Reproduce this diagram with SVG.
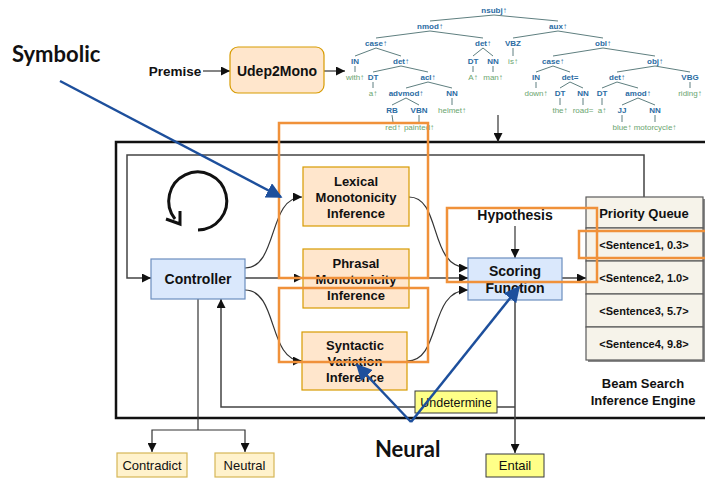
<svg xmlns="http://www.w3.org/2000/svg" width="705" height="478" viewBox="0 0 705 478">
<defs>
<style>
.tag{font-family:"Liberation Sans",Arial,sans-serif;font-size:8px;font-weight:bold;fill:#2b6ca3;text-anchor:middle}
.wd{font-family:"Liberation Sans",Arial,sans-serif;font-size:8px;fill:#6aa56f;text-anchor:middle}
.te{stroke:#5f7f80;stroke-width:1;fill:none}
.b13{font-family:"Liberation Sans",Arial,sans-serif;font-size:13px;font-weight:bold;fill:#111;text-anchor:middle}
.b14{font-family:"Liberation Sans",Arial,sans-serif;font-size:14px;font-weight:bold;fill:#111;text-anchor:middle}
.b11{font-family:"Liberation Sans",Arial,sans-serif;font-size:11px;font-weight:bold;fill:#111;text-anchor:middle}
.r13{font-family:"Liberation Sans",Arial,sans-serif;font-size:13px;fill:#111;text-anchor:middle}
.big{font-family:Lato,"Open Sans",sans-serif;font-size:22px;font-weight:bold;fill:#111}
.peach{fill:#ffe6cc;stroke:#d79b00;stroke-width:1.2}
.blue{fill:#dae8fc;stroke:#6c8ebf;stroke-width:1.2}
.cream{fill:#fff2cc;stroke:#d6b656;stroke-width:1.2}
.yel{fill:#ffff88;stroke:#36393d;stroke-width:1}
.pq{fill:#f6f3ea;stroke:#5a5a5a;stroke-width:1.2}
.cn{fill:none;stroke:#333;stroke-width:1.2}
.cg{fill:none;stroke:#444;stroke-width:1.5}
.orng{fill:none;stroke:#f0913a;stroke-width:2.5}
.ann{fill:none;stroke:#1d4f9c;stroke-width:2.5}
</style>
<marker id="ah" viewBox="0 0 10 10" refX="10" refY="5" markerWidth="9" markerHeight="9" markerUnits="userSpaceOnUse" orient="auto">
<path d="M0,0 L10,5 L0,10 z" fill="#111"/>
</marker>
<marker id="bah" viewBox="0 0 10 10" refX="9" refY="5" markerWidth="16" markerHeight="16" markerUnits="userSpaceOnUse" orient="auto">
<path d="M0,0 L10,5 L0,10 z" fill="#1d4f9c"/>
</marker>
</defs>
<rect width="705" height="478" fill="#ffffff"/>

<g id="tree">
<g class="te">
<line x1="494" y1="15" x2="430" y2="21"/><line x1="494" y1="15" x2="558" y2="21"/>
<line x1="430" y1="31" x2="376" y2="38"/><line x1="430" y1="31" x2="483" y2="38"/>
<line x1="558" y1="31" x2="513" y2="38"/><line x1="558" y1="31" x2="603" y2="38"/>
<line x1="376" y1="48" x2="355" y2="56"/><line x1="376" y1="48" x2="401" y2="56"/>
<line x1="483" y1="48" x2="473" y2="56"/><line x1="483" y1="48" x2="493" y2="56"/>
<line x1="513" y1="48" x2="513" y2="56"/>
<line x1="603" y1="48" x2="553" y2="56"/><line x1="603" y1="48" x2="655" y2="56"/>
<line x1="355" y1="66" x2="355" y2="72"/>
<line x1="401" y1="66" x2="373" y2="72"/><line x1="401" y1="66" x2="428" y2="72"/>
<line x1="473" y1="66" x2="473" y2="72"/><line x1="493" y1="66" x2="493" y2="72"/>
<line x1="553" y1="66" x2="536" y2="72"/><line x1="553" y1="66" x2="570" y2="72"/>
<line x1="655" y1="66" x2="617" y2="72"/><line x1="655" y1="66" x2="690" y2="72"/>
<line x1="373" y1="82" x2="373" y2="88"/>
<line x1="428" y1="82" x2="406" y2="88"/><line x1="428" y1="82" x2="452" y2="88"/>
<line x1="536" y1="82" x2="536" y2="88"/>
<line x1="570" y1="82" x2="560" y2="88"/><line x1="570" y1="82" x2="583" y2="88"/>
<line x1="617" y1="82" x2="602" y2="88"/><line x1="617" y1="82" x2="638" y2="88"/>
<line x1="690" y1="82" x2="690" y2="88"/>
<line x1="406" y1="98" x2="392" y2="105"/><line x1="406" y1="98" x2="419" y2="105"/>
<line x1="452" y1="98" x2="452" y2="105"/>
<line x1="560" y1="98" x2="560" y2="105"/><line x1="583" y1="98" x2="583" y2="105"/>
<line x1="602" y1="98" x2="602" y2="105"/>
<line x1="638" y1="98" x2="622" y2="105"/><line x1="638" y1="98" x2="655" y2="105"/>
<line x1="392" y1="115" x2="393" y2="122"/><line x1="419" y1="115" x2="419" y2="122"/>
<line x1="622" y1="115" x2="622" y2="122"/><line x1="655" y1="115" x2="655" y2="122"/>
</g>
<text class="tag" x="494" y="13">nsubj↑</text>
<text class="tag" x="430" y="29">nmod↑</text>
<text class="tag" x="558" y="29">aux↑</text>
<text class="tag" x="376" y="46">case↑</text>
<text class="tag" x="483" y="46">det↑</text>
<text class="tag" x="513" y="46">VBZ</text>
<text class="tag" x="603" y="46">obl↑</text>
<text class="tag" x="355" y="64">IN</text>
<text class="tag" x="401" y="64">det↑</text>
<text class="tag" x="473" y="64">DT</text>
<text class="tag" x="493" y="64">NN</text>
<text class="wd" x="513" y="64">is↑</text>
<text class="tag" x="553" y="64">case↑</text>
<text class="tag" x="655" y="64">obj↑</text>
<text class="wd" x="355" y="80">with↑</text>
<text class="tag" x="373" y="80">DT</text>
<text class="tag" x="428" y="80">acl↑</text>
<text class="wd" x="473" y="80">A↑</text>
<text class="wd" x="493" y="80">man↑</text>
<text class="tag" x="536" y="80">IN</text>
<text class="tag" x="570" y="80">det=</text>
<text class="tag" x="617" y="80">det↑</text>
<text class="tag" x="690" y="80">VBG</text>
<text class="wd" x="373" y="96">a↑</text>
<text class="tag" x="406" y="96">advmod↑</text>
<text class="tag" x="452" y="96">NN</text>
<text class="wd" x="536" y="96">down↑</text>
<text class="tag" x="560" y="96">DT</text>
<text class="tag" x="583" y="96">NN</text>
<text class="tag" x="602" y="96">DT</text>
<text class="tag" x="638" y="96">amod↑</text>
<text class="wd" x="690" y="96">riding↑</text>
<text class="tag" x="392" y="113">RB</text>
<text class="tag" x="419" y="113">VBN</text>
<text class="wd" x="452" y="113">helmet↑</text>
<text class="wd" x="560" y="113">the↑</text>
<text class="wd" x="583" y="113">road=</text>
<text class="wd" x="602" y="113">a↑</text>
<text class="tag" x="622" y="113">JJ</text>
<text class="tag" x="655" y="113">NN</text>
<text class="wd" x="393" y="130">red↑</text>
<text class="wd" x="419" y="130">painted↑</text>
<text class="wd" x="622" y="130">blue↑</text>
<text class="wd" x="655" y="130">motorcycle↑</text>
</g>

<g id="frame">
<path d="M705,142 H116 V418 H705" fill="none" stroke="#111" stroke-width="2.5"/>
</g>

<g id="connectors">
<path class="cn" d="M203,71 H230" marker-end="url(#ah)"/>
<path class="cn" d="M324,71 H345" marker-end="url(#ah)"/>
<path class="cn" d="M498,115 V142" marker-end="url(#ah)"/>
<path class="cg" d="M644,197 V155 H127 V278 H151" marker-end="url(#ah)"/>
<path class="cg" d="M245,278 H303" marker-end="url(#ah)"/>
<path class="cg" d="M409,278 H468" marker-end="url(#ah)"/>
<path class="cg" d="M562,278 H586" marker-end="url(#ah)"/>
<path class="cn" d="M245,268 C278,268 268,197 302,197" marker-end="url(#ah)"/>
<path class="cn" d="M245,290 C278,290 268,361 302,361" marker-end="url(#ah)"/>
<path class="cn" d="M409,197 C442,197 428,268 468,268" marker-end="url(#ah)"/>
<path class="cn" d="M407,361 C442,361 428,290 468,290" marker-end="url(#ah)"/>
<path class="cn" d="M515,226 V258" marker-end="url(#ah)"/>
<path class="cg" d="M515,300 V453" marker-end="url(#ah)"/>
<path class="cg" d="M515,407 H221 V299" marker-end="url(#ah)"/>
<path class="cn" d="M198,299 V430"/>
<path class="cn" d="M198,430 H152 V452" marker-end="url(#ah)"/>
<path class="cn" d="M198,430 H245 V452" marker-end="url(#ah)"/>
</g>

<g id="loop-icon">
<path d="M198,230 A29,29 0 1 0 175,219" fill="none" stroke="#111" stroke-width="3"/>
<path d="M166,219 L180,224 L180,211" fill="none" stroke="#111" stroke-width="3" stroke-linejoin="miter"/>
</g>

<text class="b13" x="175" y="76" style="font-size:13.5px">Premise</text>

<g id="udep2mono">
<rect class="peach" x="230" y="47" width="94" height="46" rx="8"/>
<text class="b14" x="277" y="76">Udep2Mono</text>
</g>

<g id="controller">
<rect class="blue" x="151" y="259" width="94" height="40"/>
<text class="b14" x="198" y="284">Controller</text>
</g>

<g id="lexical">
<rect class="peach" x="303" y="167" width="106" height="59"/>
<text class="b13" x="356" y="186">Lexical</text>
<text class="b13" x="356" y="202">Monotonicity</text>
<text class="b13" x="356" y="218">Inference</text>
</g>

<g id="phrasal">
<rect class="peach" x="303" y="249" width="106" height="59"/>
<text class="b13" x="356" y="268">Phrasal</text>
<text class="b13" x="356" y="284">Monotonicity</text>
<text class="b13" x="356" y="300">Inference</text>
</g>

<g id="syntactic">
<rect class="peach" x="302" y="332" width="105" height="58"/>
<text class="b13" x="355" y="350">Syntactic</text>
<text class="b13" x="355" y="366">Variation</text>
<text class="b13" x="355" y="382">Inference</text>
</g>

<g id="hypothesis">
<text class="b14" x="515" y="220">Hypothesis</text>
</g>

<g id="scoring">
<rect class="blue" x="468" y="258" width="94" height="42"/>
<text class="b14" x="515" y="276">Scoring</text>
<text class="b14" x="515" y="293">Function</text>
</g>

<g id="priority-queue">
<rect x="588" y="199" width="117" height="163" fill="#8a8a8a"/>
<rect class="pq" x="586" y="197" width="117" height="31"/>
<rect class="pq" x="586" y="228" width="117" height="33"/>
<rect class="pq" x="586" y="261" width="117" height="33"/>
<rect class="pq" x="586" y="294" width="117" height="33"/>
<rect class="pq" x="586" y="327" width="117" height="33"/>
<text class="b13" x="644" y="218">Priority Queue</text>
<text class="b11" x="644" y="249">&lt;Sentence1, 0.3&gt;</text>
<text class="b11" x="644" y="282">&lt;Sentence2, 1.0&gt;</text>
<text class="b11" x="644" y="315">&lt;Sentence3, 5.7&gt;</text>
<text class="b11" x="644" y="348">&lt;Sentence4, 9.8&gt;</text>
</g>

<g id="engine-label">
<text class="b13" x="643" y="388">Beam Search</text>
<text class="b13" x="643" y="405">Inference Engine</text>
</g>

<g id="undetermine">
<rect class="yel" x="415" y="391" width="82" height="22"/>
<text class="r13" x="456" y="407" style="font-size:12.5px">Undetermine</text>
</g>

<g id="entail">
<rect class="yel" x="486" y="454" width="58" height="23"/>
<text class="r13" x="515" y="470">Entail</text>
</g>

<g id="contradict">
<rect class="cream" x="117" y="453" width="70" height="24"/>
<text class="r13" x="152" y="470">Contradict</text>
</g>

<g id="neutral">
<rect class="cream" x="215" y="453" width="59" height="24"/>
<text class="r13" x="244.5" y="470">Neutral</text>
</g>

<g id="highlights">
<rect class="orng" x="279" y="123" width="149" height="155"/>
<rect class="orng" x="279" y="288" width="149" height="74"/>
<rect class="orng" x="447" y="208" width="150" height="74"/>
<rect class="orng" x="579" y="231" width="130" height="27"/>
</g>

<g id="annotations">
<text class="big" x="12" y="62">Symbolic</text>
<text class="big" x="375" y="457">Neural</text>
<path class="ann" d="M60,81 L281,197" marker-end="url(#bah)"/>
<path class="ann" d="M411,422 L357,365" marker-end="url(#bah)"/>
<path class="ann" d="M411,422 L519,287" marker-end="url(#bah)"/>
</g>
</svg>
